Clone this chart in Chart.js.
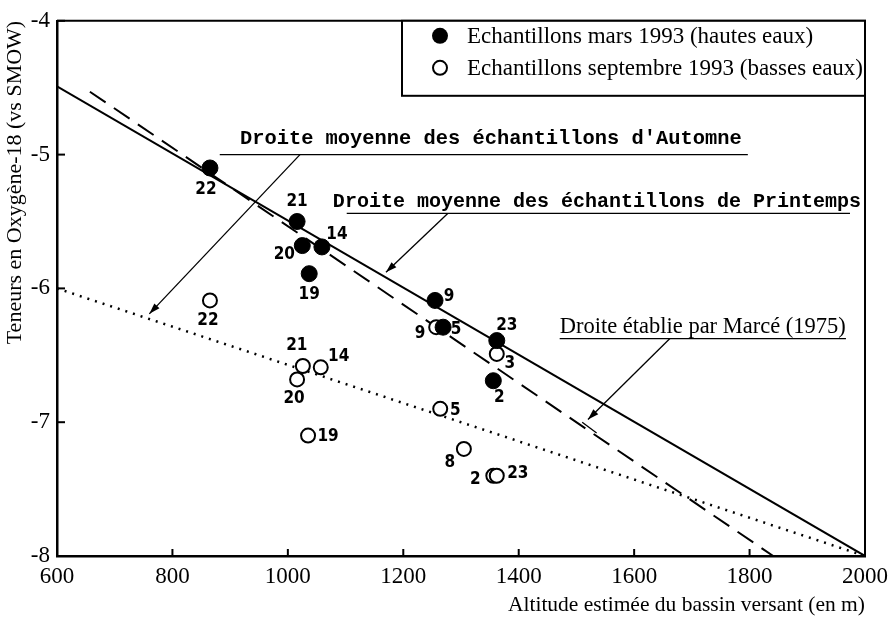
<!DOCTYPE html>
<html>
<head>
<meta charset="utf-8">
<script src="https://cdn.jsdelivr.net/npm/chart.js@4/dist/chart.umd.min.js"></script>
<style>
  html, body { margin: 0; padding: 0; background: #fff; }
  #wrap { width: 895px; height: 624px; }
</style>
</head>
<body>
<div id="wrap"><canvas id="chart"></canvas></div>
<script>
// Echantillons mars 1993 (hautes eaux)
let marsIds = ['22', '21', '20', '14', '19', '9', '5', '23', '2'];
let marsAlt = [865, 1016, 1025, 1059, 1037, 1255, 1269, 1362, 1356];
let marsO18 = [-5.10, -5.50, -5.68, -5.69, -5.89, -6.09, -6.29, -6.39, -6.69];

// Echantillons septembre 1993 (basses eaux)
let septIds = ['22', '21', '14', '20', '19', '9', '3', '5', '8', '2', '23'];
let septAlt = [865, 1026, 1057, 1016, 1035, 1257, 1362, 1264, 1305, 1356, 1362];
let septO18 = [-6.09, -6.58, -6.59, -6.68, -7.10, -6.29, -6.49, -6.90, -7.20, -7.40, -7.40];

// straight lines (end points)
let printempsAlt = [600, 2000];
let printempsO18 = [-4.49, -8.0];
let automneAlt = [600, 2000];
let automneO18 = [-6.0, -8.0];
let marceAlt = [657, 1841];
let marceO18 = [-4.53, -8.0];

let xTicks = [600, 800, 1000, 1200, 1400, 1600, 1800, 2000];
let yTicks = [-8, -7, -6, -5, -4];

let legendLabels = ['Echantillons mars 1993 (hautes eaux)', 'Echantillons septembre 1993 (basses eaux)'];
let xTitle = 'Altitude estimée du bassin versant (en m)';
let yTitle = 'Teneurs en Oxygène-18 (vs SMOW)';

// label placement around each point (px offsets)
let marsLabelPos = [[-4, 22], [0, -20], [-18, 9], [15, -12], [0, 21], [14, -4], [13, 2], [10, -15], [6, 17]];
let septLabelPos = [[-2, 20], [-6, -20], [18, -11], [-3, 19], [20, 1], [-16, 6], [13, 10], [15, 2], [-14, 14], [-18, 4], [21, -2]];

const serif = '"Liberation Serif", "DejaVu Serif", serif';
const mono = '"Liberation Mono", "DejaVu Sans Mono", monospace';
const narrow = '"Liberation Sans Narrow", "DejaVu Sans Condensed", sans-serif';

function pts(xs, ys) {
  return xs.map((x, i) => ({x: x, y: ys[i]}));
}

function arrow(ctx, x0, y0, x1, y1) {
  ctx.beginPath();
  ctx.moveTo(x0, y0);
  ctx.lineTo(x1, y1);
  ctx.stroke();
  let a = Math.atan2(y1 - y0, x1 - x0);
  let len = 11, w = 3.5;
  ctx.beginPath();
  ctx.moveTo(x1, y1);
  ctx.lineTo(x1 - len * Math.cos(a) + w * Math.sin(a), y1 - len * Math.sin(a) - w * Math.cos(a));
  ctx.lineTo(x1 - len * Math.cos(a) - w * Math.sin(a), y1 - len * Math.sin(a) + w * Math.cos(a));
  ctx.closePath();
  ctx.fill();
}

// annotations, frame, inward ticks, legend and point numbers
let decorPlugin = {
  id: 'decor',
  afterDatasetsDraw(chart) {
    let ctx = chart.ctx;
    let xs = chart.scales.x, ys = chart.scales.y;
    let area = chart.chartArea;
    let X = v => xs.getPixelForValue(v);
    let Y = v => ys.getPixelForValue(v);
    ctx.save();
    ctx.strokeStyle = '#000';
    ctx.fillStyle = '#000';

    // frame top/right
    ctx.lineWidth = 2;
    ctx.beginPath();
    ctx.moveTo(area.left, area.top);
    ctx.lineTo(area.right, area.top);
    ctx.lineTo(area.right, area.bottom);
    ctx.stroke();

    // inward tick marks
    ctx.lineWidth = 2;
    xTicks.forEach(v => {
      ctx.beginPath();
      ctx.moveTo(X(v), area.bottom);
      ctx.lineTo(X(v), area.bottom - 7);
      ctx.stroke();
    });
    yTicks.forEach(v => {
      ctx.beginPath();
      ctx.moveTo(area.left, Y(v));
      ctx.lineTo(area.left + 8, Y(v));
      ctx.stroke();
    });

    // point numbers
    ctx.font = 'bold 17px ' + narrow;
    ctx.textAlign = 'center';
    ctx.textBaseline = 'middle';
    let m0 = chart.getDatasetMeta(0).data;
    m0.forEach((p, i) => ctx.fillText(marsIds[i], p.x + marsLabelPos[i][0], p.y + marsLabelPos[i][1]));
    let m1 = chart.getDatasetMeta(1).data;
    m1.forEach((p, i) => ctx.fillText(septIds[i], p.x + septLabelPos[i][0], p.y + septLabelPos[i][1]));

    // annotation: automne
    ctx.lineWidth = 1.3;
    ctx.font = 'bold 20.4px ' + mono;
    ctx.textAlign = 'left';
    ctx.textBaseline = 'alphabetic';
    ctx.fillText("Droite moyenne des échantillons d'Automne", X(917), Y(-4.92));
    ctx.beginPath();
    ctx.moveTo(X(882), Y(-5.0));
    ctx.lineTo(X(1797), Y(-5.0));
    ctx.stroke();
    arrow(ctx, X(1021), Y(-5.0), X(760), Y(-6.19));

    // annotation: printemps
    ctx.font = 'bold 20px ' + mono;
    ctx.fillText('Droite moyenne des échantillons de Printemps', X(1078), Y(-5.39));
    ctx.beginPath();
    ctx.moveTo(X(1102), Y(-5.44));
    ctx.lineTo(X(1974), Y(-5.44));
    ctx.stroke();
    arrow(ctx, X(1277), Y(-5.44), X(1170), Y(-5.88));

    // annotation: Marcé
    ctx.font = '22.5px ' + serif;
    ctx.fillText('Droite établie par Marcé (1975)', X(1471), Y(-6.33));
    ctx.beginPath();
    ctx.moveTo(X(1471), Y(-6.375));
    ctx.lineTo(X(1967), Y(-6.375));
    ctx.stroke();
    arrow(ctx, X(1662), Y(-6.375), X(1520), Y(-6.98));
    ctx.beginPath();
    ctx.moveTo(X(1510), Y(-7.0));
    ctx.lineTo(X(1535), Y(-7.08));
    ctx.stroke();

    // legend box
    let lx = 402, ly = area.top, lw = area.right - 402, lh = 75;
    ctx.fillStyle = '#fff';
    ctx.fillRect(lx, ly, lw, lh);
    ctx.fillStyle = '#000';
    ctx.font = '23px ' + serif;
    ctx.textBaseline = 'middle';
    ctx.fillText(legendLabels[0], 467, ly + 16);
    ctx.fillText(legendLabels[1], 467, ly + 48);
    ctx.beginPath();
    ctx.arc(440, ly + 15, 8, 0, Math.PI * 2);
    ctx.fill();
    ctx.lineWidth = 2;
    ctx.beginPath();
    ctx.arc(440, ly + 47, 7, 0, Math.PI * 2);
    ctx.stroke();
    ctx.fillStyle = '#fff';
    ctx.fillRect(area.right + 1, ly, 30, lh);
    ctx.lineWidth = 2;
    ctx.strokeRect(lx, ly, lw, lh);
    ctx.restore();
  }
};

let chart = new Chart(document.getElementById('chart'), {
  type: 'scatter',
  data: {
    datasets: [
      {
        label: legendLabels[0],
        data: pts(marsAlt, marsO18),
        pointRadius: 8,
        pointBackgroundColor: '#000',
        pointBorderColor: '#000',
        pointBorderWidth: 1,
        order: 0
      },
      {
        label: legendLabels[1],
        data: pts(septAlt, septO18),
        pointRadius: 7,
        pointBackgroundColor: '#fff',
        pointBorderColor: '#000',
        pointBorderWidth: 2,
        order: 1
      },
      {
        label: 'Printemps',
        data: pts(printempsAlt, printempsO18),
        showLine: true,
        pointRadius: 0,
        borderColor: '#000',
        borderWidth: 2,
        order: 2
      },
      {
        label: 'Automne',
        data: pts(automneAlt, automneO18),
        showLine: true,
        pointRadius: 0,
        borderColor: '#000',
        borderWidth: 2.5,
        borderDash: [2, 6],
        order: 3
      },
      {
        label: 'Marcé',
        data: pts(marceAlt, marceO18),
        showLine: true,
        pointRadius: 0,
        borderColor: '#000',
        borderWidth: 2,
        borderDash: [19, 10],
        order: 4
      }
    ]
  },
  options: {
    responsive: true,
    maintainAspectRatio: false,
    animation: false,
    layout: { padding: { left: 0, right: 30, top: 17, bottom: 0 } },
    plugins: { legend: { display: false }, tooltip: { enabled: false } },
    scales: {
      x: {
        type: 'linear',
        min: 600, max: 2000,
        afterBuildTicks: s => { s.ticks = xTicks.map(v => ({value: v})); },
        afterFit: s => { s.height = 68; },
        grid: { display: false, drawTicks: false },
        border: { display: true, color: '#000', width: 2.5 },
        ticks: { color: '#000', font: { family: serif, size: 23 }, padding: 7, maxRotation: 0, callback: v => String(v) },
        title: { display: true, text: xTitle, align: 'end', color: '#000', font: { family: serif, size: 21.5 }, padding: { top: 0, bottom: 6 } }
      },
      y: {
        type: 'linear',
        min: -8, max: -4,
        afterBuildTicks: s => { s.ticks = yTicks.map(v => ({value: v})); },
        afterFit: s => { s.width = 57; },
        grid: { display: false, drawTicks: false },
        border: { display: true, color: '#000', width: 2.5 },
        ticks: { color: '#000', font: { family: serif, size: 23 }, padding: 7, callback: v => String(v) },
        title: { display: true, text: yTitle, align: 'end', color: '#000', font: { family: serif, size: 22 }, padding: { top: 2, bottom: 0 } }
      }
    }
  },
  plugins: [decorPlugin]
});
</script>
</body>
</html>
